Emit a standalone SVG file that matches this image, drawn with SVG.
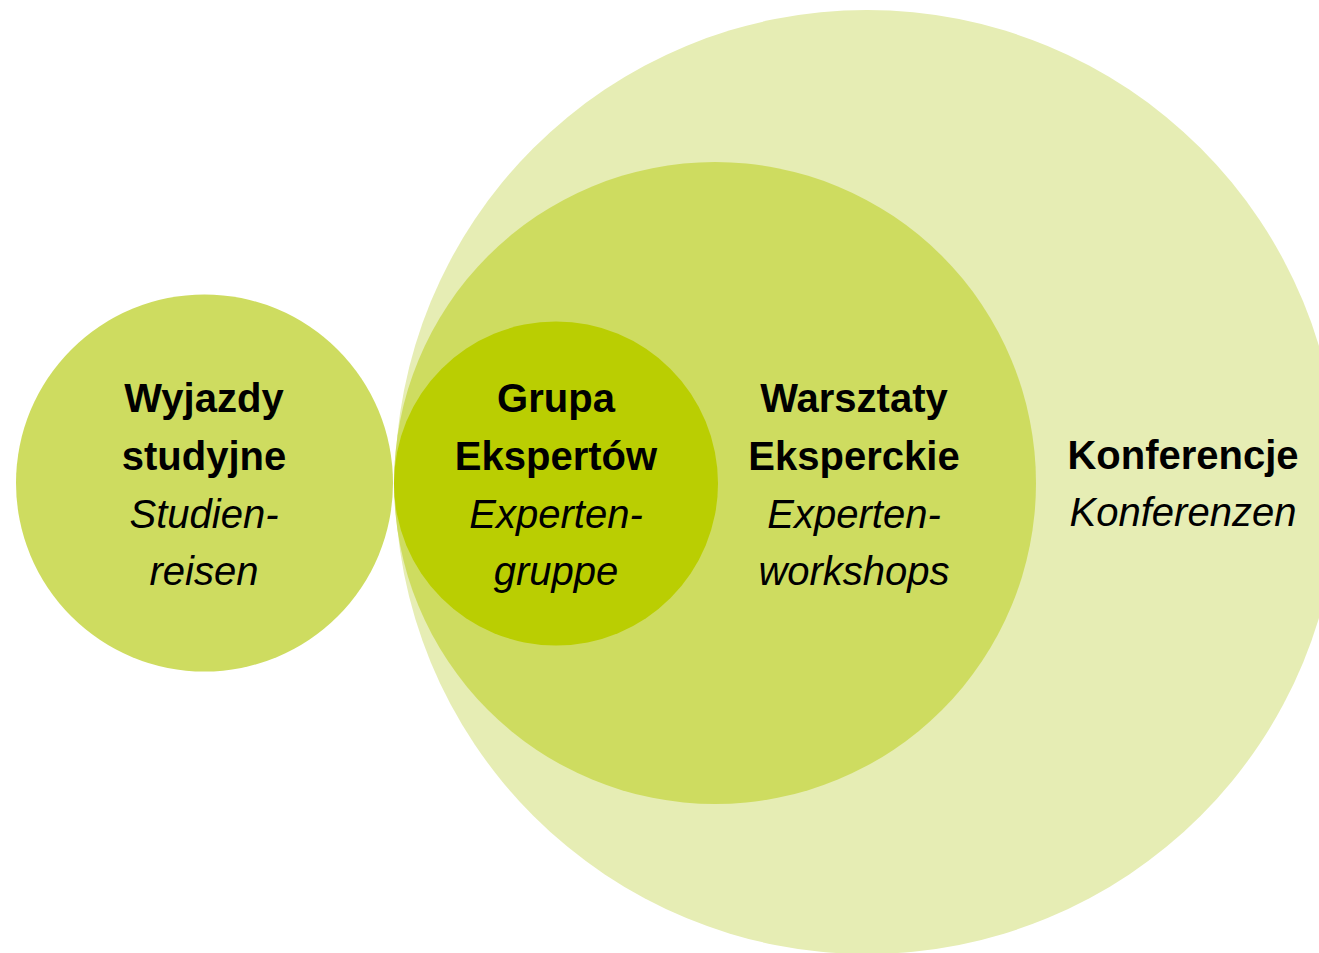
<svg xmlns="http://www.w3.org/2000/svg" width="1319" height="953" viewBox="0 0 1319 953">
<style>
.b{font-family:"Liberation Sans",Arial,sans-serif;font-weight:bold;font-size:40px;fill:#000;text-anchor:middle}
.i{font-family:"Liberation Sans",Arial,sans-serif;font-style:italic;font-size:40px;fill:#000;text-anchor:middle}
</style>
<rect width="1319" height="953" fill="#fff"/>
<g id="konferencje">
<circle cx="867" cy="482" r="472" fill="#E6EDB4"/>
<text class="b" x="1183" y="469">Konferencje</text>
<text class="i" x="1183" y="526">Konferenzen</text>
</g>
<g id="warsztaty">
<circle cx="715" cy="483" r="321" fill="#CEDC60"/>
<text class="b" x="854" y="412">Warsztaty</text>
<text class="b" x="854" y="470">Eksperckie</text>
<text class="i" x="854" y="528">Experten-</text>
<text class="i" x="854" y="585">workshops</text>
</g>
<g id="grupa">
<circle cx="556" cy="483.5" r="162" fill="#BACE02"/>
<text class="b" x="556" y="412">Grupa</text>
<text class="b" x="556" y="470">Ekspertów</text>
<text class="i" x="556" y="528">Experten-</text>
<text class="i" x="556" y="585">gruppe</text>
</g>
<g id="wyjazdy">
<circle cx="204.5" cy="483" r="188.5" fill="#CEDC60"/>
<text class="b" x="204" y="412">Wyjazdy</text>
<text class="b" x="204" y="470">studyjne</text>
<text class="i" x="204" y="528">Studien-</text>
<text class="i" x="204" y="585">reisen</text>
</g>
<g id="connectors"/>
</svg>
